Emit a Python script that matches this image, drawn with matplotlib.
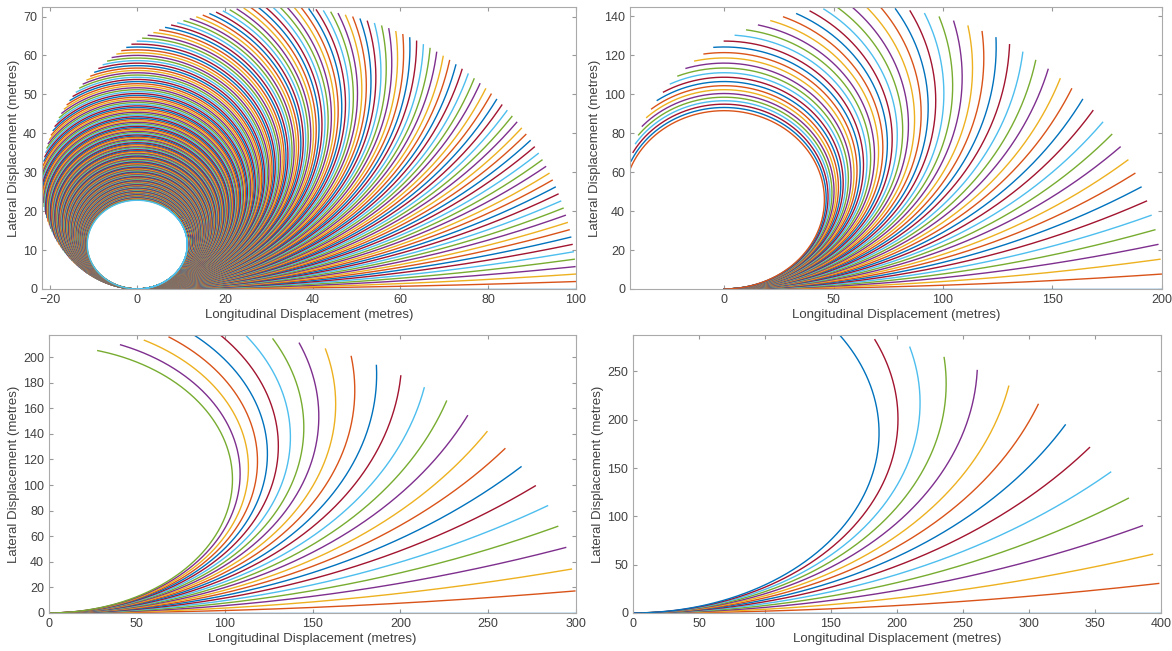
import numpy as np
import matplotlib
matplotlib.use("Agg")
import matplotlib.pyplot as plt

# === DATOS ===
# vehicle speed in each panel (m/s); every manoeuvre lasts 10 s
speeds = [10, 20, 30, 40]
duration = 10.0
# path curvature added by each steering step (1/m)
curvature_step = 3.83e-4
# steering steps drawn per panel (stops near 0.9 g lateral acceleration)
n_curves = [230, 58, 26, 15]

x_ticks = [[-20, 0, 20, 40, 60, 80, 100],
           [0, 50, 100, 150, 200],
           [0, 50, 100, 150, 200, 250, 300],
           [0, 50, 100, 150, 200, 250, 300, 350, 400]]
y_ticks = [[0, 10, 20, 30, 40, 50, 60, 70],
           [0, 20, 40, 60, 80, 100, 120, 140],
           [0, 20, 40, 60, 80, 100, 120, 140, 160, 180, 200],
           [0, 50, 100, 150, 200, 250]]

matlab_colors = ['#0072BD', '#D95319', '#EDB120', '#7E2F8E',
                 '#77AC30', '#4DBEEE', '#A2142F']

# axes boxes in figure fractions (left, bottom, width, height)
boxes = [(0.0358, 0.5561, 0.4556, 0.4332),
         (0.5375, 0.5561, 0.4537, 0.4332),
         (0.0418, 0.0584, 0.4497, 0.4270),
         (0.5401, 0.0584, 0.4503, 0.4270)]

plt.rcParams['font.family'] = ['Liberation Sans', 'DejaVu Sans']
plt.rcParams['font.size'] = 9

fig = plt.figure(figsize=(11.72, 6.51), dpi=100)


def arc(kappa, length):
    s = np.linspace(0, length, 700)
    if kappa == 0:
        return s, np.zeros_like(s)
    return np.sin(kappa * s) / kappa, (1 - np.cos(kappa * s)) / kappa


for i in range(4):
    ax = fig.add_axes(boxes[i])
    length = speeds[i] * duration
    xmin, xmax, ymax = 0.0, 0.0, 0.0
    for k in range(n_curves[i]):
        x, y = arc(k * curvature_step, length)
        ax.plot(x, y, color=matlab_colors[k % 7], lw=1.0)
        xmin, xmax, ymax = min(xmin, x.min()), max(xmax, x.max()), max(ymax, y.max())

    # axis tight, like the original
    ax.set_xlim(xmin, xmax)
    ax.set_ylim(0, ymax)
    ax.set_xticks(x_ticks[i])
    ax.set_yticks(y_ticks[i])
    ax.tick_params(direction='in', top=True, right=True, length=3,
                   colors='#999999', labelcolor='#404040', labelsize=9)
    for sp in ax.spines.values():
        sp.set_color('#aaaaaa')
        sp.set_linewidth(0.8)
    ax.set_xlabel('Longitudinal Displacement (metres)', color='#404040', fontsize=9.5, labelpad=2)
    ax.set_ylabel('Lateral Displacement (metres)', color='#404040', fontsize=9.5, labelpad=2)

fig.savefig('out.png', dpi=100)
